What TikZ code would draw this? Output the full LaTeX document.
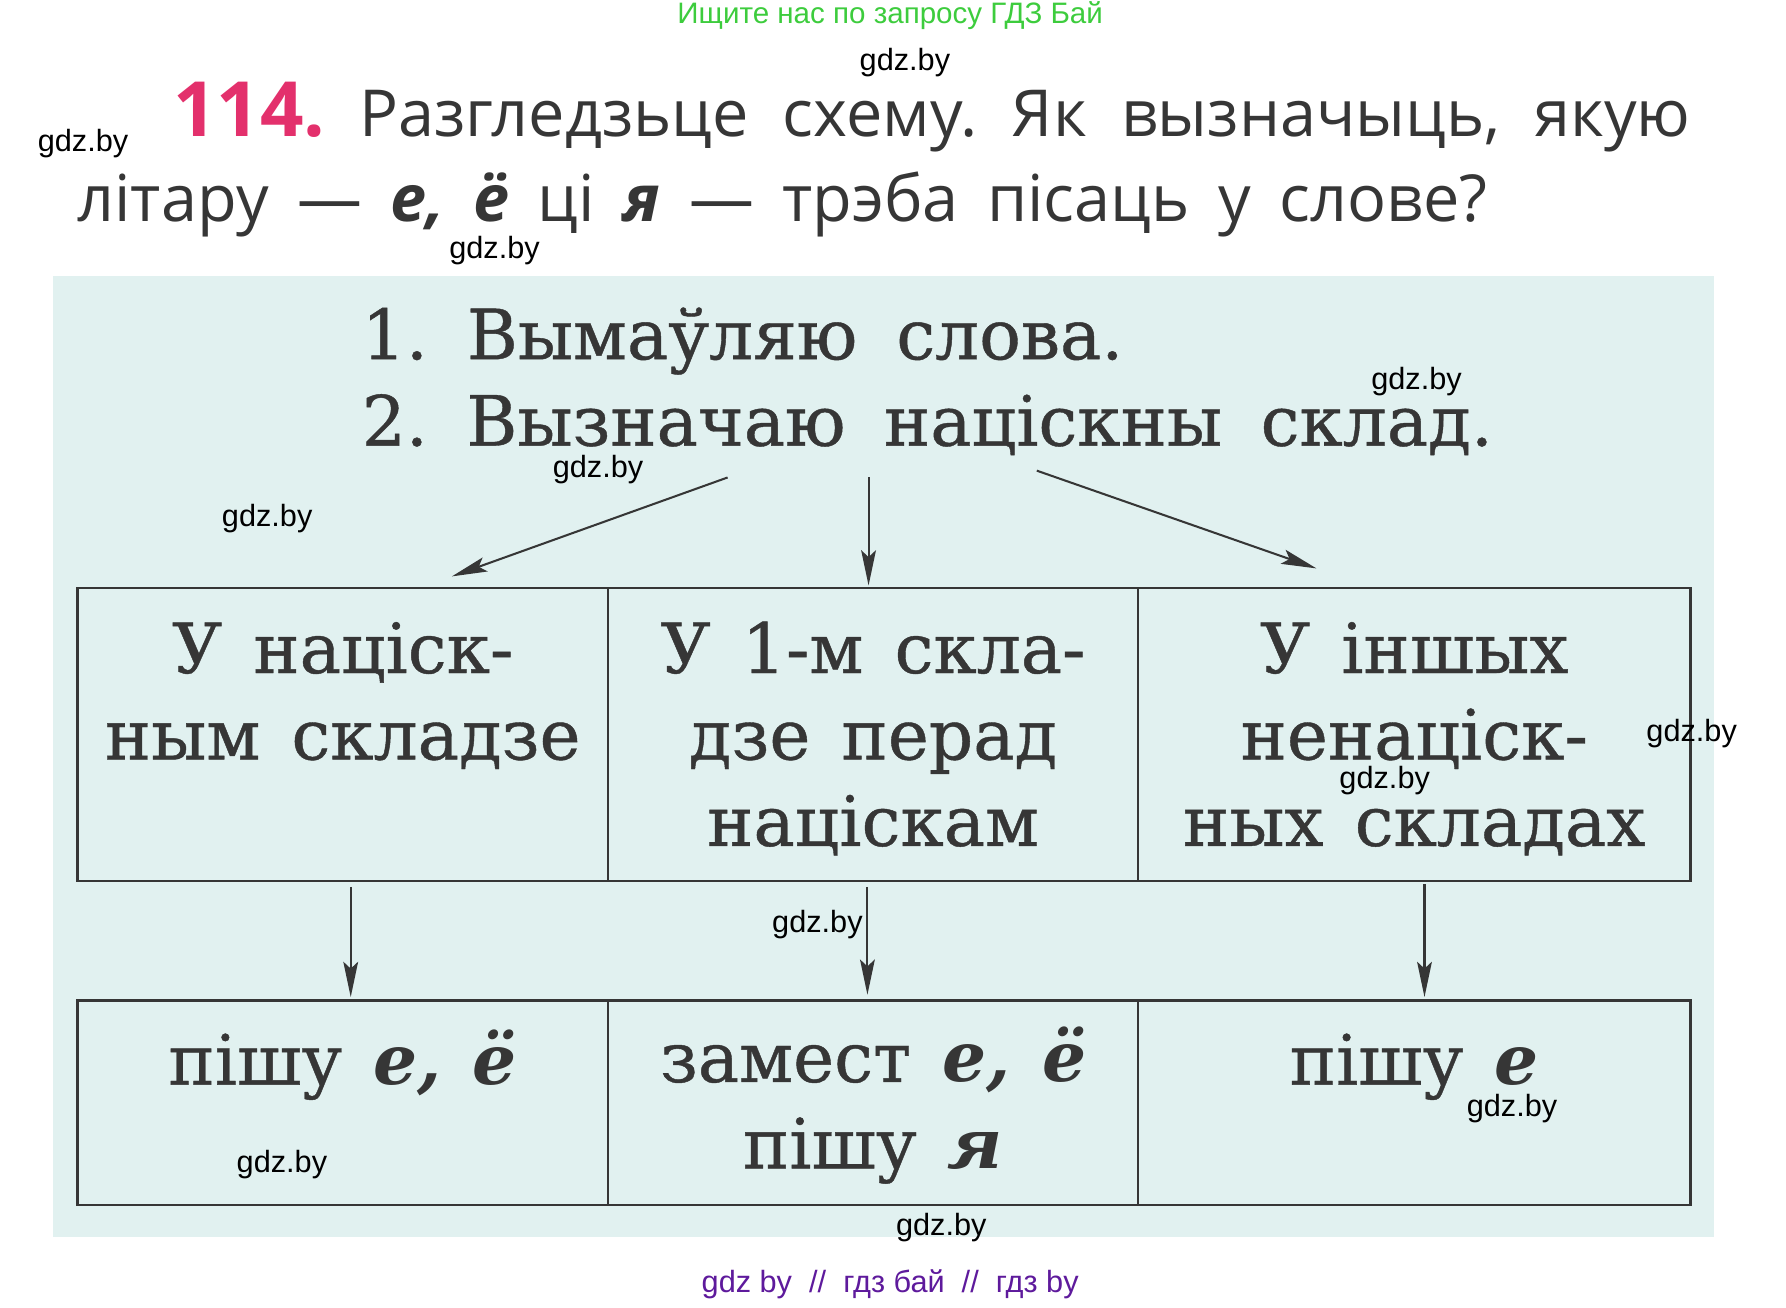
\documentclass[tikz,border=0pt]{standalone}
\usepackage{fontspec}
\setmainfont{DejaVu Serif}[UprightFeatures={FakeBold=0.6}]
\newfontfamily\titlefont{Open Sans}
\newfontfamily\markfont{Liberation Sans}
\usetikzlibrary{arrows.meta,positioning}
\frenchspacing

\definecolor{padcyan}{HTML}{E1F1F0}
\definecolor{inkgray}{HTML}{363636}
\definecolor{numpink}{HTML}{E3306C}
\definecolor{hdrgreen}{HTML}{3DCC3D}
\definecolor{ftrpurple}{HTML}{5E1A9C}

\newcommand\boxstrut{\rule[-9pt]{0pt}{62pt}}
\newcommand\cellfont{\fontsize{61}{76}\selectfont\spaceskip=0.45em plus 0.1em\relax}

\tikzset{
	cell/.style={draw=inkgray, line width=2.2pt, rectangle, inner sep=0pt, outer sep=0pt,
		align=center, text=inkgray, font=\cellfont},
	topcell/.style={cell, minimum height=258pt},
	lowcell/.style={cell, minimum height=180pt},
	arr/.style={draw=inkgray, line width=1.8pt, -{Stealth[length=31pt,width=13pt,inset=6pt]}},
	wm/.style={font=\markfont\fontsize{27}{27}\selectfont, text=black},
	steptext/.style={anchor=base west, text=inkgray, inner sep=0pt, font=\fontsize{61}{72}\selectfont},
	titletext/.style={anchor=base west, text=inkgray, inner sep=0pt, font=\titlefont\fontsize{57}{70}\selectfont},
}

\begin{document}
\begin{tikzpicture}[x=1pt, y=-1pt]
			%%%%% START %%%%%
			\useasboundingbox (0, 0) rectangle (1571, 1150);
			
			% header and task
			\node[font=\markfont\fontsize{26}{26}\selectfont, text=hdrgreen] (hdr) at (783, 14) {Ищите нас по запросу ГДЗ Бай};
			\node[titletext] (title1) at (152, 120) {\makebox[1335pt][s]{\textcolor{numpink}{\fontsize{67}{67}\selectfont\bfseries 114.} Разгледзьце схему. Як вызначыць, якую}};
			\node[titletext] (title2) at (68, 195) {\makebox[1240pt][s]{літару — \textbf{\textit{е, ё}} ці \textbf{\textit{я}} — трэба пісаць у слове?}};
			
			% pad
			\fill[padcyan] (47, 243) rectangle (1508, 1088);
			
			\node[steptext] (step1) at (318, 316) {\makebox[670pt][s]{1. Вымаўляю слова.}};
			\node[steptext] (step2) at (318, 392) {\makebox[995pt][s]{2. Вызначаю націскны склад.}};
			
			% top row
			\node[topcell, minimum width=467pt, anchor=north west] (b1) at (68, 517) {\boxstrut У націск-\\ным складзе\\\boxstrut};
			\node[topcell, minimum width=466pt, right=0pt of b1] (b2) {\boxstrut У 1-м скла-\\дзе перад\\націскам\boxstrut};
			\node[topcell, minimum width=486pt, right=0pt of b2] (b3) {\boxstrut У іншых\\ненаціск-\\ных складах\boxstrut};
			
			% bottom row
			\node[lowcell, minimum width=467pt, anchor=north west] (c1) at (68, 880) {\boxstrut пішу \textbf{\textit{е, ё}}\\\boxstrut};
			\node[lowcell, minimum width=466pt, right=0pt of c1] (c2) {\boxstrut замест \textbf{\textit{е, ё}}\\пішу \textbf{\textit{я}}\boxstrut};
			\node[lowcell, minimum width=486pt, right=0pt of c2] (c3) {\boxstrut пішу \textbf{\textit{е}}\\\boxstrut};
			
			% arrows
			\coordinate (s2l) at (640, 420);
			\coordinate (s2m) at (764, 420);
			\coordinate (s2r) at (912, 414);
			\draw[arr] (s2l) -- ([shift={(96, -10)}]b1.north);
			\draw[arr] (s2m) -- ([shift={(-4, -2)}]b2.north);
			\draw[arr] (s2r) -- ([shift={(-86, -17)}]b3.north);
			
			\draw[arr] ([shift={(7, 5)}]b1.south) -- ([shift={(7, -3)}]c1.north);
			\draw[arr] ([shift={(-5, 5)}]b2.south) -- ([shift={(-5, -5)}]c2.north);
			\draw[arr] ([shift={(9, 3)}]b3.south) -- ([shift={(9, -3)}]c3.north);
			
			% footer
			\node[font=\markfont\fontsize{27}{27}\selectfont, text=ftrpurple] (ftr) at (783, 1130) {gdz by\ \ //\ \ гдз бай\ \ //\ \ гдз by};
			
			% watermarks
			\node[wm] (wm1) at (796, 55) {gdz.by};
			\node[wm] (wm2) at (73, 126) {gdz.by};
			\node[wm] (wm3) at (435, 220) {gdz.by};
			\node[wm] (wm4) at (1246, 336) {gdz.by};
			\node[wm] (wm5) at (526, 413) {gdz.by};
			\node[wm] (wm6) at (235, 456) {gdz.by};
			\node[wm] (wm7) at (1488, 645) {gdz.by};
			\node[wm] (wm8) at (1218, 687) {gdz.by};
			\node[wm] (wm9) at (719, 813) {gdz.by};
			\node[wm] (wm10) at (248, 1024) {gdz.by};
			\node[wm] (wm11) at (1330, 975) {gdz.by};
			\node[wm] (wm12) at (828, 1080) {gdz.by};
			
			%%%%% END %%%%%
\end{tikzpicture}
\end{document}
